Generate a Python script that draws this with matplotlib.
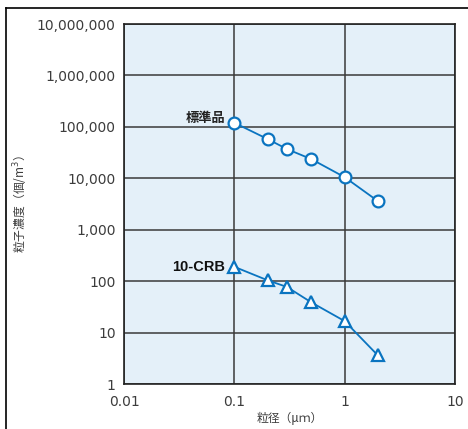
import matplotlib
matplotlib.use('Agg')
import matplotlib.pyplot as plt
import matplotlib.ticker as plticker
from matplotlib.lines import Line2D

# particle size (um)
sizes = [0.1, 0.2, 0.3, 0.5, 1.0, 2.0]
# particle concentration (1/m3)
standard = [120000, 58000, 37000, 23500, 10500, 3600]
crb = [190, 104, 77, 38.5, 16.7, 3.6]

ytick_vals = [1, 10, 100, 1000, 10000, 100000, 1000000, 10000000]
ytick_labels = ['1', '10', '100', '1,000', '10,000', '100,000', '1,000,000', '10,000,000']
xtick_vals = [0.01, 0.1, 1, 10]
xtick_labels = ['0.01', '0.1', '1', '10']

blue = '#0a74c0'
grey = '#3c3c3c'
cjk = ['Noto Sans CJK JP', 'DejaVu Sans']

fig = plt.figure(figsize=(4.68, 4.29), dpi=100)
ax = fig.add_axes([124 / 468, 1 - 384 / 429, 331 / 468, 360 / 429])
ax.set_facecolor('#e4f0f9')

ax.set_xscale('log')
ax.set_yscale('log')
ax.set_xlim(0.01, 10)
ax.set_ylim(1, 10000000)

ax.plot(sizes, standard, color=blue, lw=1.3, marker='o', ms=8.5,
        mfc='white', mec=blue, mew=1.6, zorder=3)
ax.plot(sizes, crb, color=blue, lw=1.3, marker='^', ms=9,
        mfc='white', mec=blue, mew=1.6, zorder=3)

ax.xaxis.set_major_locator(plticker.FixedLocator(xtick_vals))
ax.yaxis.set_major_locator(plticker.FixedLocator(ytick_vals))
ax.xaxis.set_minor_locator(plticker.NullLocator())
ax.yaxis.set_minor_locator(plticker.NullLocator())
ax.set_xticklabels(xtick_labels)
ax.set_yticklabels(ytick_labels)
ax.tick_params(length=0, labelsize=10, labelcolor=grey, pad=6)
ax.tick_params(axis='x', pad=8)

ax.grid(True, color='#3a3a3a', lw=1.1)
ax.set_axisbelow(True)
for s in ax.spines.values():
    s.set_color('#222222')
    s.set_linewidth(1.2)

ax.text(0.083, standard[0] * 1.25, '標準品', ha='right', va='center',
        fontsize=9.5, fontweight='bold', family=cjk, color='#222222')
ax.text(0.082, crb[0], '10-CRB', ha='right', va='center',
        fontsize=10.5, fontweight='bold', family='Liberation Sans', color='#111111')

ax.set_xlabel('粒径（μｍ）', family=cjk, fontsize=8.5, color=grey, labelpad=2)
ax.set_ylabel('粒子濃度（個/m$^3$）', family=cjk, fontsize=8.5, color=grey)
ax.yaxis.set_label_coords(-0.285, 0.5)

# outer frame (top and left)
fig.add_artist(Line2D([6 / 468, 6 / 468], [0, 1 - 8 / 429], transform=fig.transFigure,
                      color='black', lw=1.2))
fig.add_artist(Line2D([6 / 468, 1], [1 - 8 / 429, 1 - 8 / 429], transform=fig.transFigure,
                      color='black', lw=1.2))

fig.savefig('out.png', dpi=100)
